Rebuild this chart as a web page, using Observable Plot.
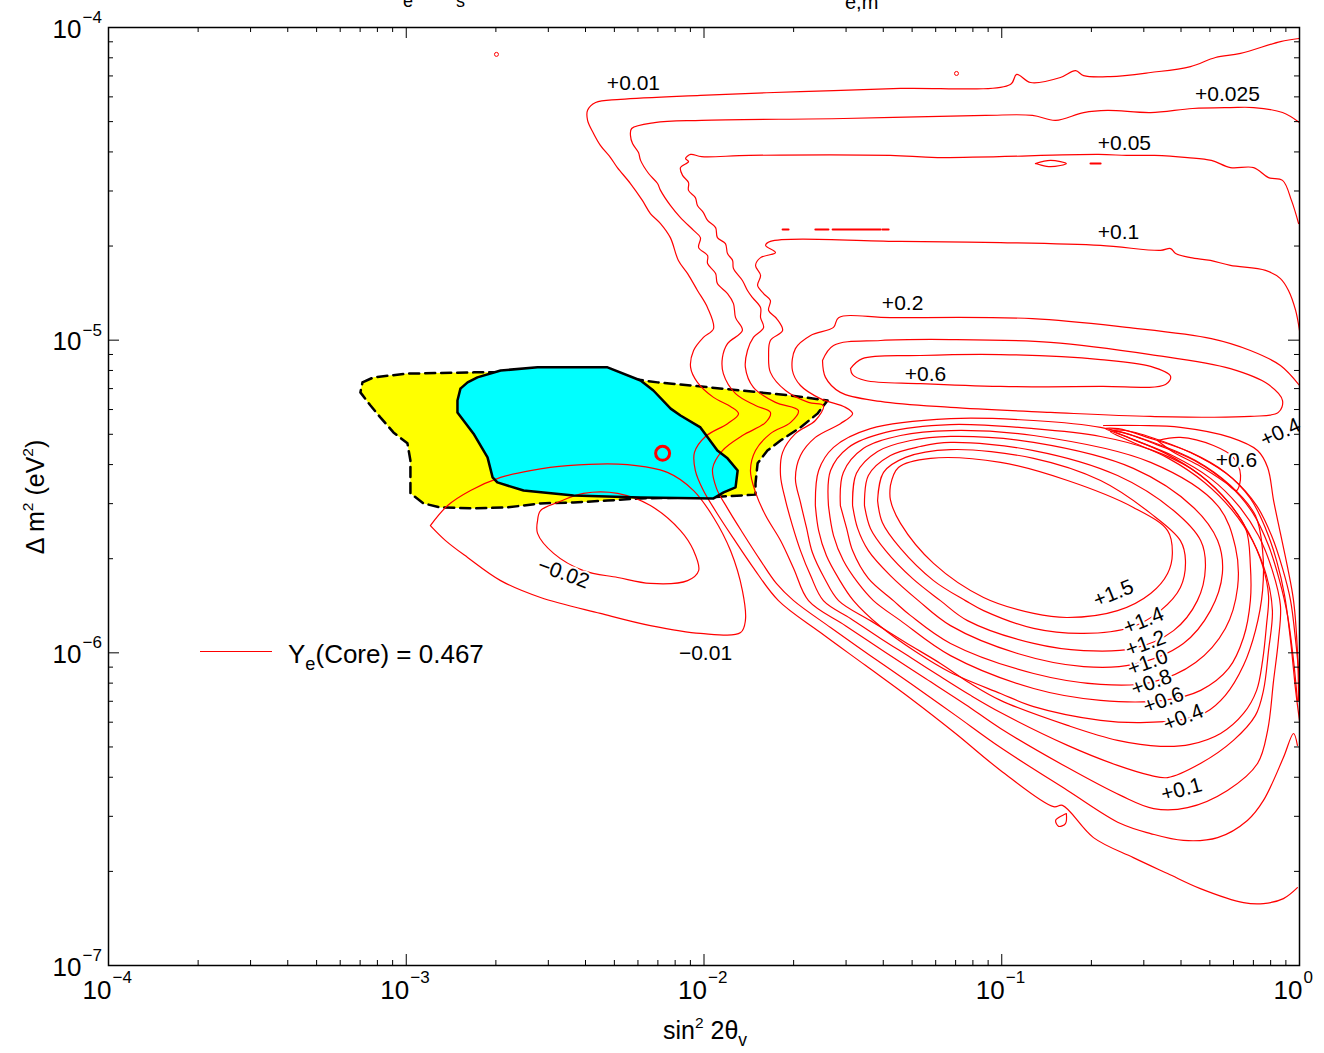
<!DOCTYPE html>
<html><head><meta charset="utf-8">
<script src="https://cdn.jsdelivr.net/npm/d3@7"></script>
<script src="https://cdn.jsdelivr.net/npm/@observablehq/plot@0.6"></script>
<style>
body{margin:0;background:#fff;}
#wrap{position:relative;width:1324px;height:1053px;overflow:hidden;font-family:"Liberation Sans",Arial,sans-serif;background:#fff;}
#wrap svg{position:absolute;left:0;top:0;}
.ov{position:absolute;white-space:nowrap;color:#000;line-height:1;}
.ov sup{font-size:0.62em;vertical-align:0.65em;line-height:0;}
.ov sub{font-size:0.7em;vertical-align:-0.4em;line-height:0;}
</style></head><body><div id="wrap"></div>
<script>
// All contour coordinates are [log10(sin^2 2θ), log10(Δm^2 / eV^2)]
const cA = [[0.000,-4.035],[-0.064,-4.045],[-0.198,-4.083],[-0.282,-4.096],[-0.366,-4.125],[-0.500,-4.144],[-0.635,-4.157],[-0.725,-4.154],[-0.752,-4.138],[-0.803,-4.160],[-0.903,-4.176],[-0.950,-4.150],[-0.971,-4.182],[-1.340,-4.195],[-1.676,-4.205],[-2.012,-4.217],[-2.280,-4.230],[-2.364,-4.240],[-2.391,-4.265],[-2.391,-4.297],[-2.371,-4.339],[-2.348,-4.377],[-2.314,-4.416],[-2.291,-4.448],[-2.247,-4.499],[-2.207,-4.553],[-2.180,-4.595],[-2.146,-4.627],[-2.113,-4.672],[-2.086,-4.745],[-2.055,-4.787],[-2.022,-4.841],[-1.988,-4.896],[-1.968,-4.963],[-2.002,-4.991],[-2.035,-5.033],[-2.045,-5.087],[-2.022,-5.135],[-1.968,-5.183],[-1.911,-5.212],[-1.884,-5.235],[-1.921,-5.267],[-1.995,-5.308],[-2.032,-5.359],[-2.029,-5.417],[-2.002,-5.481],[-1.958,-5.551],[-1.901,-5.634],[-1.837,-5.724],[-1.750,-5.833],[-1.609,-5.935],[-1.458,-6.040],[-1.306,-6.146],[-1.155,-6.258],[-1.004,-6.376],[-0.826,-6.492],[-0.796,-6.488],[-0.692,-6.591],[-0.558,-6.655],[-0.443,-6.706],[-0.333,-6.754],[-0.188,-6.799],[-0.121,-6.802],[-0.054,-6.786],[-0.007,-6.751]];
const cAloop = [[-0.783,-6.514],[-0.786,-6.546],[-0.809,-6.555],[-0.819,-6.536],[-0.796,-6.520]];
const cB = [[0.000,-4.304],[-0.057,-4.272],[-0.154,-4.256],[-0.232,-4.256],[-0.359,-4.259],[-0.500,-4.272],[-0.645,-4.265],[-0.725,-4.272],[-0.819,-4.297],[-0.897,-4.281],[-1.055,-4.281],[-1.531,-4.291],[-2.008,-4.297],[-2.166,-4.304],[-2.243,-4.323],[-2.247,-4.345],[-2.240,-4.371],[-2.220,-4.400],[-2.213,-4.425],[-2.186,-4.467],[-2.156,-4.499],[-2.146,-4.521],[-2.113,-4.569],[-2.079,-4.608],[-2.035,-4.649],[-2.012,-4.672],[-2.018,-4.704],[-1.988,-4.729],[-1.988,-4.755],[-1.961,-4.787],[-1.955,-4.819],[-1.921,-4.851],[-1.901,-4.883],[-1.894,-4.928],[-1.871,-4.969],[-1.921,-5.011],[-1.938,-5.055],[-1.935,-5.107],[-1.894,-5.171],[-1.827,-5.209],[-1.777,-5.231],[-1.793,-5.263],[-1.871,-5.305],[-1.938,-5.353],[-1.971,-5.410],[-1.958,-5.474],[-1.921,-5.538],[-1.871,-5.615],[-1.810,-5.705],[-1.757,-5.778],[-1.699,-5.833],[-1.575,-5.919],[-1.441,-6.009],[-1.306,-6.098],[-1.155,-6.200],[-1.004,-6.303],[-0.779,-6.440],[-0.601,-6.546],[-0.500,-6.578],[-0.390,-6.600],[-0.275,-6.591],[-0.175,-6.536],[-0.121,-6.472],[-0.054,-6.335],[-0.020,-6.258],[-0.007,-6.296]];
const cC = [[-0.003,-4.627],[-0.027,-4.553],[-0.057,-4.489],[-0.104,-4.480],[-0.154,-4.448],[-0.232,-4.448],[-0.296,-4.425],[-0.376,-4.416],[-0.487,-4.409],[-0.581,-4.409],[-0.675,-4.406],[-1.216,-4.416],[-1.374,-4.409],[-1.847,-4.409],[-2.008,-4.413],[-2.045,-4.406],[-2.062,-4.419],[-2.052,-4.429],[-2.079,-4.448],[-2.072,-4.473],[-2.052,-4.496],[-2.052,-4.521],[-2.029,-4.544],[-2.022,-4.569],[-2.002,-4.592],[-1.988,-4.617],[-1.961,-4.640],[-1.955,-4.672],[-1.928,-4.691],[-1.921,-4.723],[-1.904,-4.745],[-1.901,-4.771],[-1.871,-4.809],[-1.854,-4.841],[-1.837,-4.864],[-1.810,-4.896],[-1.810,-4.928],[-1.800,-4.960],[-1.834,-4.991],[-1.854,-5.033],[-1.861,-5.087],[-1.834,-5.151],[-1.760,-5.199],[-1.683,-5.225],[-1.709,-5.263],[-1.777,-5.299],[-1.827,-5.353],[-1.844,-5.417],[-1.827,-5.487],[-1.793,-5.561],[-1.743,-5.641],[-1.699,-5.730],[-1.649,-5.833],[-1.525,-5.913],[-1.390,-5.999],[-1.256,-6.082],[-1.122,-6.165],[-1.004,-6.242],[-0.779,-6.367],[-0.601,-6.456],[-0.490,-6.498],[-0.376,-6.495],[-0.242,-6.440],[-0.141,-6.354],[-0.107,-6.248],[-0.087,-6.088],[-0.071,-5.961],[-0.064,-5.849],[-0.091,-5.737],[-0.138,-5.625],[-0.205,-5.529],[-0.299,-5.442],[-0.427,-5.369],[-0.568,-5.314],[-0.625,-5.289],[-0.584,-5.289],[-0.467,-5.321],[-0.339,-5.372],[-0.225,-5.442],[-0.144,-5.529],[-0.094,-5.625],[-0.057,-5.730],[-0.030,-5.833],[-0.013,-5.961],[0.000,-6.088]];
const cD = [[0.000,-4.969],[-0.013,-4.905],[-0.037,-4.841],[-0.064,-4.803],[-0.114,-4.777],[-0.232,-4.761],[-0.299,-4.745],[-0.366,-4.736],[-0.416,-4.723],[-0.433,-4.707],[-0.467,-4.713],[-0.668,-4.697],[-1.004,-4.688],[-1.340,-4.684],[-1.777,-4.684],[-1.793,-4.697],[-1.760,-4.720],[-1.810,-4.736],[-1.827,-4.761],[-1.810,-4.793],[-1.820,-4.825],[-1.800,-4.851],[-1.777,-4.873],[-1.783,-4.905],[-1.756,-4.931],[-1.736,-4.969],[-1.777,-5.001],[-1.783,-5.049],[-1.777,-5.103],[-1.726,-5.161],[-1.649,-5.199],[-1.599,-5.209],[-1.626,-5.257],[-1.693,-5.299],[-1.736,-5.359],[-1.743,-5.433],[-1.726,-5.513],[-1.703,-5.593],[-1.676,-5.673],[-1.642,-5.753],[-1.599,-5.833],[-1.508,-5.890],[-1.407,-5.954],[-1.306,-6.015],[-1.206,-6.076],[-1.105,-6.136],[-1.004,-6.191],[-0.779,-6.296],[-0.611,-6.360],[-0.500,-6.392],[-0.443,-6.399],[-0.333,-6.354],[-0.222,-6.280],[-0.148,-6.200],[-0.121,-6.120],[-0.104,-5.993],[-0.091,-5.865],[-0.111,-5.753],[-0.158,-5.641],[-0.225,-5.545],[-0.319,-5.455],[-0.440,-5.378],[-0.574,-5.321],[-0.635,-5.292],[-0.594,-5.295],[-0.480,-5.334],[-0.353,-5.385],[-0.238,-5.462],[-0.158,-5.551],[-0.104,-5.657],[-0.067,-5.769],[-0.040,-5.881],[-0.020,-6.025],[-0.007,-6.152]];
const cE = [[0.000,-5.145],[-0.064,-5.081],[-0.165,-5.033],[-0.296,-4.995],[-0.581,-4.959],[-0.897,-4.931],[-1.374,-4.928],[-1.548,-4.928],[-1.565,-4.959],[-1.642,-4.985],[-1.693,-5.027],[-1.703,-5.097],[-1.676,-5.145],[-1.609,-5.187],[-1.525,-5.215],[-1.501,-5.235],[-1.542,-5.267],[-1.626,-5.311],[-1.676,-5.369],[-1.693,-5.442],[-1.676,-5.519],[-1.656,-5.599],[-1.636,-5.679],[-1.595,-5.762],[-1.548,-5.833],[-1.441,-5.897],[-1.323,-5.967],[-1.206,-6.034],[-1.105,-6.098],[-1.004,-6.152],[-0.779,-6.232],[-0.611,-6.280],[-0.467,-6.299],[-0.366,-6.293],[-0.265,-6.258],[-0.188,-6.194],[-0.144,-6.120],[-0.124,-6.025],[-0.111,-5.913],[-0.104,-5.817],[-0.124,-5.721],[-0.171,-5.615],[-0.238,-5.519],[-0.332,-5.433],[-0.450,-5.362],[-0.584,-5.308],[-0.652,-5.283],[-0.608,-5.283],[-0.500,-5.314],[-0.366,-5.359],[-0.249,-5.423],[-0.165,-5.506],[-0.114,-5.602],[-0.077,-5.705],[-0.050,-5.817],[-0.030,-5.961],[-0.013,-6.120],[0.000,-6.216]];
const cF = [[-0.658,-5.273],[-0.534,-5.273],[-0.400,-5.279],[-0.232,-5.311],[-0.141,-5.353],[-0.107,-5.407],[-0.087,-5.513],[-0.064,-5.618],[-0.040,-5.727],[-0.020,-5.833],[-0.007,-5.993],[-0.003,-6.152]];
const fin06 = [[-0.477,-5.321],[-0.400,-5.311],[-0.289,-5.337],[-0.222,-5.375],[-0.198,-5.433],[-0.212,-5.481],[-0.249,-5.455],[-0.332,-5.404],[-0.427,-5.356]];
const isl04 = [[-1.602,-5.065],[-1.565,-5.017],[-1.407,-5.001],[-1.172,-4.998],[-0.836,-5.007],[-0.500,-5.046],[-0.232,-5.091],[-0.104,-5.142],[-0.057,-5.193],[-0.071,-5.231],[-0.165,-5.244],[-0.500,-5.244],[-0.836,-5.231],[-1.172,-5.215],[-1.407,-5.196],[-1.542,-5.167],[-1.592,-5.119]];
const isl06 = [[-1.508,-5.091],[-1.468,-5.059],[-1.273,-5.049],[-1.004,-5.046],[-0.668,-5.062],[-0.500,-5.084],[-0.433,-5.116],[-0.450,-5.142],[-0.668,-5.148],[-1.004,-5.148],[-1.273,-5.139],[-1.458,-5.129],[-1.501,-5.110]];
const m01 = [[-2.919,-5.593],[-2.861,-5.529],[-2.784,-5.481],[-2.683,-5.439],[-2.583,-5.417],[-2.458,-5.401],[-2.257,-5.398],[-2.123,-5.423],[-2.035,-5.481],[-1.968,-5.567],[-1.911,-5.673],[-1.871,-5.801],[-1.861,-5.897],[-1.877,-5.935],[-2.012,-5.938],[-2.180,-5.913],[-2.348,-5.874],[-2.549,-5.823],[-2.683,-5.769],[-2.794,-5.695],[-2.868,-5.641]];
const m02 = [[-2.559,-5.577],[-2.549,-5.545],[-2.492,-5.519],[-2.405,-5.490],[-2.290,-5.490],[-2.180,-5.529],[-2.079,-5.609],[-2.035,-5.673],[-2.018,-5.737],[-2.055,-5.769],[-2.180,-5.778],[-2.290,-5.759],[-2.405,-5.737],[-2.505,-5.682],[-2.559,-5.618]];
const p15 = [[-1.374,-5.465],[-1.347,-5.407],[-1.239,-5.378],[-1.004,-5.391],[-0.779,-5.449],[-0.558,-5.535],[-0.443,-5.609],[-0.427,-5.682],[-0.443,-5.746],[-0.500,-5.810],[-0.611,-5.865],[-0.779,-5.887],[-0.893,-5.874],[-1.061,-5.823],[-1.229,-5.714],[-1.340,-5.586],[-1.374,-5.510]];
const p14 = [[-1.417,-5.513],[-1.397,-5.423],[-1.323,-5.375],[-1.172,-5.350],[-0.893,-5.378],[-0.668,-5.449],[-0.500,-5.554],[-0.400,-5.641],[-0.383,-5.705],[-0.400,-5.791],[-0.467,-5.865],[-0.568,-5.919],[-0.725,-5.938],[-0.893,-5.922],[-1.061,-5.865],[-1.122,-5.833],[-1.229,-5.769],[-1.340,-5.666],[-1.401,-5.583]];
const p12 = [[-1.461,-5.529],[-1.448,-5.433],[-1.374,-5.369],[-1.273,-5.340],[-1.172,-5.327],[-0.893,-5.353],[-0.611,-5.433],[-0.423,-5.545],[-0.332,-5.641],[-0.316,-5.727],[-0.343,-5.833],[-0.423,-5.929],[-0.558,-5.986],[-0.725,-5.993],[-0.893,-5.970],[-1.115,-5.897],[-1.206,-5.833],[-1.300,-5.762],[-1.390,-5.673],[-1.441,-5.602]];
const p10 = [[-1.501,-5.529],[-1.488,-5.426],[-1.417,-5.356],[-1.306,-5.321],[-1.172,-5.308],[-0.893,-5.327],[-0.558,-5.410],[-0.356,-5.535],[-0.275,-5.641],[-0.259,-5.746],[-0.299,-5.865],[-0.390,-5.970],[-0.558,-6.037],[-0.725,-6.044],[-0.947,-6.002],[-1.172,-5.913],[-1.280,-5.833],[-1.374,-5.753],[-1.448,-5.673],[-1.484,-5.602]];
const p08 = [[-1.542,-5.529],[-1.532,-5.423],[-1.464,-5.346],[-1.340,-5.305],[-1.172,-5.289],[-0.893,-5.305],[-0.500,-5.391],[-0.275,-5.529],[-0.215,-5.663],[-0.208,-5.791],[-0.249,-5.922],[-0.349,-6.031],[-0.500,-6.095],[-0.668,-6.101],[-0.893,-6.066],[-1.172,-5.970],[-1.306,-5.881],[-1.364,-5.833],[-1.448,-5.762],[-1.501,-5.673],[-1.521,-5.602]];
const p06 = [[-1.582,-5.529],[-1.575,-5.417],[-1.515,-5.343],[-1.390,-5.295],[-1.172,-5.270],[-0.893,-5.283],[-0.668,-5.308],[-0.500,-5.350],[-0.366,-5.410],[-0.259,-5.497],[-0.181,-5.602],[-0.165,-5.721],[-0.165,-5.833],[-0.188,-5.951],[-0.238,-6.050],[-0.332,-6.120],[-0.457,-6.152],[-0.668,-6.152],[-0.893,-6.114],[-1.172,-6.009],[-1.340,-5.897],[-1.431,-5.833],[-1.484,-5.775],[-1.532,-5.705],[-1.565,-5.625]];
const p04 = [[-1.626,-5.529],[-1.615,-5.417],[-1.565,-5.343],[-1.441,-5.283],[-1.172,-5.251],[-0.893,-5.257],[-0.668,-5.279],[-0.500,-5.324],[-0.349,-5.385],[-0.232,-5.465],[-0.148,-5.561],[-0.124,-5.673],[-0.124,-5.801],[-0.148,-5.929],[-0.188,-6.040],[-0.249,-6.136],[-0.316,-6.191],[-0.390,-6.213],[-0.534,-6.223],[-0.668,-6.216],[-0.893,-6.172],[-1.004,-6.130],[-1.172,-6.063],[-1.290,-5.996],[-1.407,-5.916],[-1.498,-5.833],[-1.548,-5.762],[-1.589,-5.689],[-1.615,-5.609]];
const ellipse1 = [[-0.887,-4.435],[-0.836,-4.425],[-0.783,-4.435],[-0.836,-4.445]];
const dashes = [[[-1.736,-4.646],[-1.716,-4.646]],[[-1.626,-4.646],[-1.582,-4.646]],[[-1.568,-4.646],[-1.407,-4.646]],[[-1.401,-4.646],[-1.380,-4.646]],[[-0.702,-4.435],[-0.668,-4.435]]];
const tinyRings = [[-2.697,-4.086],[-1.152,-4.147]];

// allowed regions
const yellowRegion = [[-3.147,-5.135],[-3.110,-5.119],[-2.996,-5.107],[-2.774,-5.103],[-2.549,-5.103],[-2.324,-5.113],[-2.156,-5.135],[-2.045,-5.145],[-1.877,-5.161],[-1.709,-5.177],[-1.585,-5.193],[-1.619,-5.235],[-1.676,-5.279],[-1.743,-5.321],[-1.787,-5.353],[-1.820,-5.394],[-1.827,-5.458],[-1.827,-5.494],[-1.988,-5.503],[-2.213,-5.506],[-2.324,-5.513],[-2.438,-5.519],[-2.549,-5.522],[-2.660,-5.535],[-2.774,-5.538],[-2.885,-5.535],[-2.942,-5.522],[-2.986,-5.490],[-2.986,-5.439],[-2.986,-5.385],[-2.996,-5.330],[-3.043,-5.295],[-3.087,-5.247],[-3.120,-5.209],[-3.154,-5.167]];
const cyanRegion = [[-2.818,-5.155],[-2.828,-5.193],[-2.828,-5.231],[-2.774,-5.299],[-2.727,-5.375],[-2.710,-5.439],[-2.694,-5.455],[-2.606,-5.481],[-2.438,-5.497],[-2.213,-5.503],[-1.968,-5.506],[-1.934,-5.487],[-1.894,-5.471],[-1.887,-5.417],[-1.921,-5.378],[-1.955,-5.353],[-2.012,-5.279],[-2.079,-5.241],[-2.112,-5.219],[-2.170,-5.161],[-2.213,-5.129],[-2.324,-5.087],[-2.559,-5.087],[-2.683,-5.097],[-2.761,-5.119],[-2.794,-5.135]];
const bestFit = [[-2.139,-5.362]];

// contour labels
const labelText = ["+0.01","+0.025","+0.05","+0.1","+0.2","+0.6","+0.4","+0.6","+1.5","+1.4","+1.2","+1.0","+0.8","+0.6","+0.4","+0.1","\u22120.02","\u22120.01"];
const labelLX = [-2.237,-0.242,-0.588,-0.608,-1.333,-1.256,-0.064,-0.212,-0.625,-0.524,-0.517,-0.510,-0.497,-0.457,-0.390,-0.396,-2.472,-1.995];
const labelLY = [-4.179,-4.214,-4.371,-4.656,-4.883,-5.110,-5.295,-5.385,-5.810,-5.897,-5.970,-6.031,-6.095,-6.152,-6.207,-6.437,-5.746,-6.002];
const labelAngle = [0,0,0,0,0,0,-25,0,-22,-22,-20,-20,-20,-20,-22,-15,20,0];

// axes
const xDecades = [-4,-3,-2,-1,0];
const yDecades = [-7,-6,-5,-4];
const minorMult = [2,3,4,5,6,7,8,9];

const P = (a) => ({x: Math.pow(10, a[0]), y: Math.pow(10, a[1])});
const rows = (pts, id, closed) => {
  const r = pts.map(p => ({...P(p), id}));
  if (closed) r.push({...r[0]});
  return r;
};
const redList = [
  [cA,"A",false],[cAloop,"Aloop",true],[cB,"B",false],[cC,"C",false],[cD,"D",false],[cE,"E",false],[cF,"F",false],
  [fin06,"fin06",true],[isl04,"isl04",true],[isl06,"isl06",true],[m01,"m01",true],[m02,"m02",true],
  [p15,"p15",true],[p14,"p14",true],[p12,"p12",true],[p10,"p10",true],[p08,"p08",true],[p06,"p06",true],[p04,"p04",true],
  [ellipse1,"ell1",true]
];
const redRows = redList.flatMap(([p,id,c]) => rows(p,id,c));
const dashRows = dashes.flatMap((d,i) => rows(d,"d"+i,false));
const yellowRows = rows(yellowRegion,"yellow",true);
const cyanRows = rows(cyanRegion,"cyan",true);
const labels = labelText.map((t,i) => ({text:t, ...P([labelLX[i],labelLY[i]]), rot: labelAngle[i]}));

const xMajor = xDecades.map(e => Math.pow(10,e));
const yMajor = yDecades.map(e => Math.pow(10,e));
const xMinor = xDecades.slice(0,-1).flatMap(e => minorMult.map(m => m*Math.pow(10,e)));
const yMinor = yDecades.slice(0,-1).flatMap(e => minorMult.map(m => m*Math.pow(10,e)));
const expText = e => (e < 0 ? "\u2212" + Math.abs(e) : String(e));

const W = 1324, H = 1053, mT = 27, mR = 25, mB = 88, mL = 108;
const FW = W - mL - mR, FH = H - mT - mB;
const font = "Liberation Sans, Arial, Helvetica, sans-serif";

const chart = Plot.plot({
  width: W, height: H, marginTop: mT, marginRight: mR, marginBottom: mB, marginLeft: mL,
  x: {type: "log", domain: [1e-4, 1], axis: null},
  y: {type: "log", domain: [1e-7, 1e-4], axis: null},
  style: {background: "white", fontFamily: font, overflow: "visible"},
  marks: [
    Plot.line(yellowRows, {x: "x", y: "y", fill: "#ffff00", stroke: "none", curve: "linear"}),
    Plot.line(yellowRows, {x: "x", y: "y", stroke: "black", strokeWidth: 2.5, strokeDasharray: "10,6", curve: "linear"}),
    Plot.line(cyanRows, {x: "x", y: "y", fill: "#00ffff", stroke: "none", curve: "linear"}),
    Plot.line(redRows, {x: "x", y: "y", z: "id", stroke: "#ff0000", strokeWidth: 1.2, curve: "catmull-rom", clip: true}),
    Plot.line(dashRows, {x: "x", y: "y", z: "id", stroke: "#ff0000", strokeWidth: 2, curve: "linear"}),
    Plot.dot(tinyRings.map(P), {x: "x", y: "y", r: 2, stroke: "#ff0000", strokeWidth: 1, fill: "none"}),
    Plot.line(cyanRows, {x: "x", y: "y", stroke: "black", strokeWidth: 2.5, curve: "linear"}),
    Plot.dot(bestFit.map(P), {x: "x", y: "y", r: 7, stroke: "#ff0000", strokeWidth: 3, fill: "none"}),
    Plot.text(labels, {x: "x", y: "y", text: "text", rotate: "rot", fontSize: 21, fill: "black", stroke: "white", strokeWidth: 4}),
    // ticks (inward, all four sides)
    Plot.ruleX(xMajor, {x: d => d, insetTop: FH - 11, stroke: "black"}),
    Plot.ruleX(xMajor, {x: d => d, insetBottom: FH - 11, stroke: "black"}),
    Plot.ruleX(xMinor, {x: d => d, insetTop: FH - 5, stroke: "black"}),
    Plot.ruleX(xMinor, {x: d => d, insetBottom: FH - 5, stroke: "black"}),
    Plot.ruleY(yMajor, {y: d => d, insetRight: FW - 11, stroke: "black"}),
    Plot.ruleY(yMajor, {y: d => d, insetLeft: FW - 11, stroke: "black"}),
    Plot.ruleY(yMinor, {y: d => d, insetRight: FW - 5, stroke: "black"}),
    Plot.ruleY(yMinor, {y: d => d, insetLeft: FW - 5, stroke: "black"}),
    Plot.frame({stroke: "black", strokeWidth: 1.5}),
    // tick labels 10^n
    Plot.text(xDecades, {x: e => Math.pow(10,e), text: () => "10", frameAnchor: "bottom", textAnchor: "end", dx: 3, dy: 33, fontSize: 26, fill: "black"}),
    Plot.text(xDecades, {x: e => Math.pow(10,e), text: expText, frameAnchor: "bottom", textAnchor: "start", dx: 4, dy: 17, fontSize: 17, fill: "black"}),
    Plot.text(yDecades, {y: e => Math.pow(10,e), text: () => "10", frameAnchor: "left", textAnchor: "end", dx: -27, dy: 2, fontSize: 26, fill: "black"}),
    Plot.text(yDecades, {y: e => Math.pow(10,e), text: expText, frameAnchor: "left", textAnchor: "start", dx: -26, dy: -10, fontSize: 17, fill: "black"})
  ]
});
const wrap = document.getElementById("wrap");
wrap.appendChild(chart);

const overlays = [
  {html: "e", left: 403, top: -8, size: 18},
  {html: "s", left: 456, top: -8, size: 18},
  {html: "e,m", left: 845, top: -8, size: 20},
  {html: "Y<sub>e</sub>(Core) = 0.467", left: 288, top: 641, size: 26}
];
for (const o of overlays) {
  const d = document.createElement("div");
  d.className = "ov";
  d.style.left = o.left + "px"; d.style.top = o.top + "px"; d.style.fontSize = o.size + "px";
  d.innerHTML = o.html;
  wrap.appendChild(d);
}
const leg = document.createElement("div");
leg.className = "ov";
Object.assign(leg.style, {left: "200px", top: "651px", width: "72px", height: "0", borderTop: "1.3px solid #ff0000"});
wrap.appendChild(leg);

const yl = document.createElement("div");
yl.className = "ov";
Object.assign(yl.style, {left: "35px", top: "497px", fontSize: "25px", transform: "translate(-50%,-50%) rotate(-90deg)"});
yl.innerHTML = "\u0394 m<sup>2</sup> (eV<sup>2</sup>)";
wrap.appendChild(yl);

const xl = document.createElement("div");
xl.className = "ov";
Object.assign(xl.style, {left: "705px", top: "1030px", fontSize: "25px", transform: "translate(-50%,-50%)"});
xl.innerHTML = "sin<sup>2</sup> 2\u03b8<sub>v</sub>";
wrap.appendChild(xl);
</script>
</body></html>
